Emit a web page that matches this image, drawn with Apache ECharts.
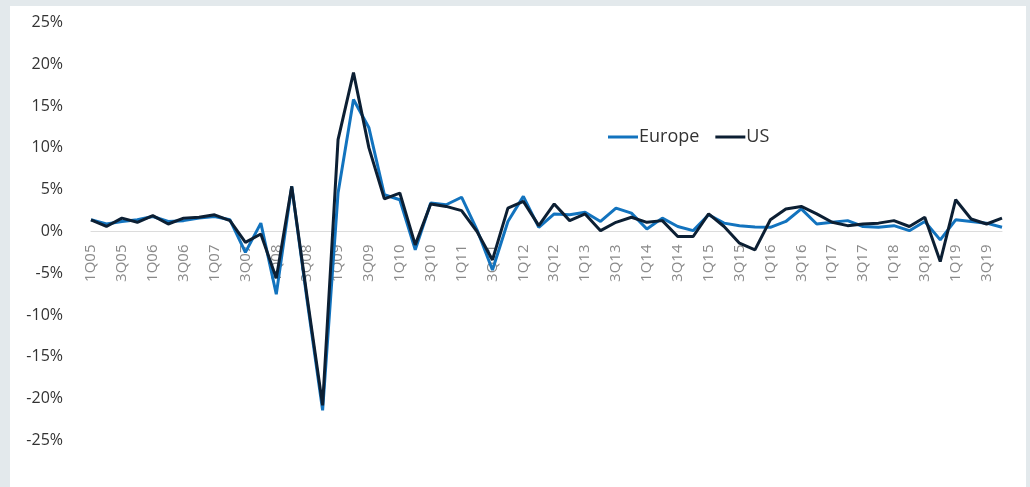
<!DOCTYPE html>
<html>
<head>
<meta charset="utf-8">
<script src="https://cdn.jsdelivr.net/npm/echarts@6/dist/echarts.min.js"></script>
<style>
html,body{margin:0;padding:0;background:#e3e9ec;}
#panel{position:absolute;left:10px;top:6px;width:1016px;height:481px;background:#fff;}
#chart{position:absolute;left:0;top:0;width:1030px;height:487px;}
</style>
</head>
<body>
<div id="panel"></div>
<div id="chart"></div>
<script>
const quarters = [
 '1Q05','2Q05','3Q05','4Q05','1Q06','2Q06','3Q06','4Q06','1Q07','2Q07','3Q07','4Q07',
 '1Q08','2Q08','3Q08','4Q08','1Q09','2Q09','3Q09','4Q09','1Q10','2Q10','3Q10','4Q10',
 '1Q11','2Q11','3Q11','4Q11','1Q12','2Q12','3Q12','4Q12','1Q13','2Q13','3Q13','4Q13',
 '1Q14','2Q14','3Q14','4Q14','1Q15','2Q15','3Q15','4Q15','1Q16','2Q16','3Q16','4Q16',
 '1Q17','2Q17','3Q17','4Q17','1Q18','2Q18','3Q18','4Q18','1Q19','2Q19','3Q19','4Q19'
];
const europe = [
 1.4,0.9,1.2,1.4,1.8,1.2,1.3,1.6,1.8,1.4,-2.5,1.0,
 -7.5,5.4,-8.3,-21.4,4.6,15.8,12.4,4.4,3.8,-2.2,3.4,3.2,
 4.1,0.2,-4.6,1.2,4.2,0.5,2.1,2.0,2.3,1.2,2.8,2.2,
 0.3,1.6,0.6,0.1,2.0,1.0,0.7,0.55,0.5,1.2,2.7,0.9,
 1.1,1.3,0.6,0.5,0.7,0.1,1.2,-1.0,1.4,1.2,1.0,0.5
];
const us = [
 1.4,0.6,1.6,1.1,1.9,0.9,1.6,1.7,2.0,1.3,-1.3,-0.3,
 -5.6,5.4,-7.9,-20.8,11.0,19.0,10.0,3.9,4.6,-1.6,3.3,3.0,
 2.5,0.0,-3.4,2.8,3.6,0.7,3.3,1.3,2.1,0.1,1.1,1.7,
 1.1,1.3,-0.6,-0.6,2.1,0.6,-1.4,-2.2,1.4,2.7,3.0,2.1,
 1.1,0.7,0.9,1.0,1.3,0.6,1.7,-3.6,3.8,1.5,0.9,1.6
];
const yTicks = [-25,-20,-15,-10,-5,0,5,10,15,20,25];

const gridTop = 22.5, gridBottom = 46.5, H = 487;
const plotH = H - gridTop - gridBottom;
const yMin = yTicks[0], yMax = yTicks[yTicks.length-1];
// shift the category axis from the bottom edge up to the zero line
const zeroOffset = -plotH * (0 - yMin) / (yMax - yMin);

const chart = echarts.init(document.getElementById('chart'), null, {renderer:'canvas'});
chart.setOption({
  backgroundColor: 'transparent',
  animation: false,
  grid: {left: 91, right: 28, top: gridTop, bottom: gridBottom, containLabel: false},
  legend: {
    left: 603, top: 123,
    itemWidth: 30, itemHeight: 3, itemGap: 16,
    icon: 'rect',
    textStyle: {fontFamily: 'Open Sans', fontSize: 18, color: '#333', padding:[0,0,0,-4]},
    data: ['Europe','US']
  },
  xAxis: {
    type: 'category',
    data: quarters,
    boundaryGap: false,
    offset: zeroOffset,
    axisLine: {onZero: false, lineStyle: {color: '#dcdcdc', width: 1}},
    axisTick: {show: false},
    axisLabel: {interval: 1, rotate: 90, margin: 13, color: '#8a8a8a', fontFamily: 'Open Sans', fontSize: 15}
  },
  yAxis: {
    type: 'value',
    min: yMin, max: yMax, interval: 5,
    axisLine: {show: false},
    axisTick: {show: false},
    splitLine: {show: false},
    axisLabel: {formatter: '{value}%', margin: 28, color: '#333', fontFamily: 'Open Sans', fontSize: 16}
  },
  series: [
    {name: 'Europe', type: 'line', data: europe, symbol: 'none',
     lineStyle: {color: '#1273be', width: 3}, itemStyle: {color: '#1273be'}},
    {name: 'US', type: 'line', data: us, symbol: 'none',
     lineStyle: {color: '#0c1f33', width: 3}, itemStyle: {color: '#0c1f33'}}
  ]
});
</script>
</body>
</html>
